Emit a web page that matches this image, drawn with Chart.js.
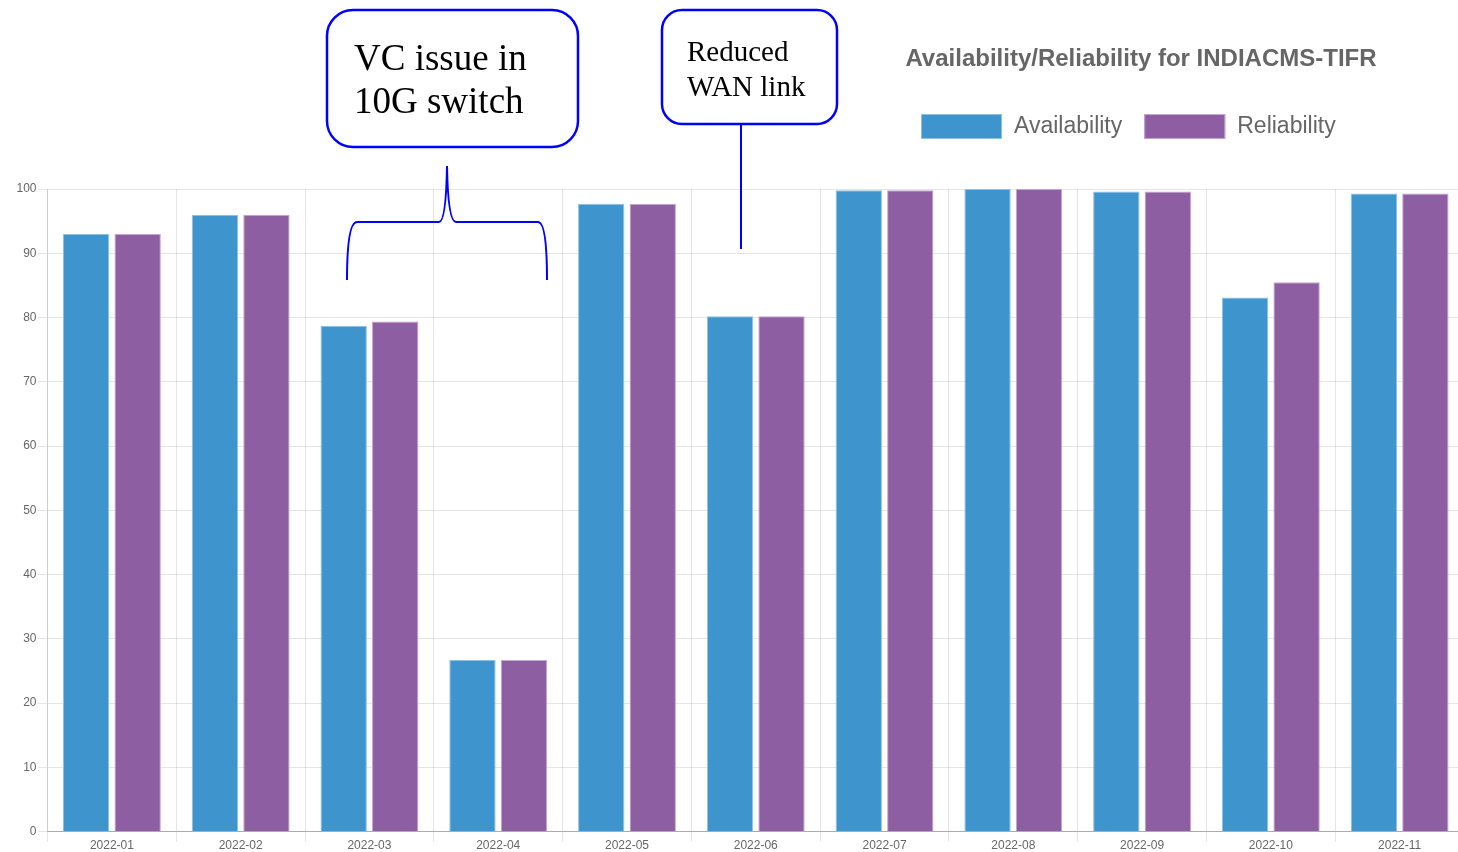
<!DOCTYPE html>
<html>
<head>
<meta charset="utf-8">
<title>Availability/Reliability for INDIACMS-TIFR</title>
<script src="https://cdn.jsdelivr.net/npm/chart.js@4.4.0/dist/chart.umd.min.js"></script>
<style>
    html, body { margin: 0; padding: 0; background: #fff; overflow: hidden; }
    #wrap { position: relative; width: 1464px; height: 852px; }
</style>
</head>
<body>
<div id="wrap"><canvas id="siteChart"></canvas></div>
<script>
const months = ['2022-01', '2022-02', '2022-03', '2022-04', '2022-05', '2022-06',
    '2022-07', '2022-08', '2022-09', '2022-10', '2022-11'];
const availability = [93.0, 96.0, 78.7, 26.7, 97.7, 80.2, 99.8, 100.0, 99.6, 83.1, 99.3];
const reliability = [93.0, 96.0, 79.4, 26.7, 97.7, 80.2, 99.8, 100.0, 99.6, 85.5, 99.3];
const yTicks = [0, 10, 20, 30, 40, 50, 60, 70, 80, 90, 100];
const chartTitle = 'Availability/Reliability for INDIACMS-TIFR';

const sansFont = "'Liberation Sans', Arial, sans-serif";
const serifFont = "'Liberation Serif', 'Times New Roman', serif";

Chart.defaults.font.family = sansFont;
Chart.defaults.color = '#666';

// title + legend sit off to the right, so they are drawn by hand
const headerPlugin = {
    id: 'header',
    afterDraw(chart) {
        const ctx = chart.ctx;
        ctx.save();
        ctx.fillStyle = '#666';
        ctx.font = 'bold 24px ' + sansFont;
        ctx.textAlign = 'center';
        ctx.textBaseline = 'alphabetic';
        ctx.fillText(chartTitle, 1141, 66);

        ctx.font = '23px ' + sansFont;
        ctx.textAlign = 'left';
        ctx.textBaseline = 'middle';
        let x = 921;
        chart.data.datasets.forEach(ds => {
            ctx.fillStyle = ds.backgroundColor;
            ctx.fillRect(x, 114, 81, 25);
            ctx.strokeStyle = ds.borderColor;
            ctx.lineWidth = 1;
            ctx.strokeRect(x + 0.5, 114.5, 80, 24);
            ctx.fillStyle = '#666';
            ctx.fillText(ds.label, x + 93, 127);
            x += 93 + ctx.measureText(ds.label).width + 22;
        });
        ctx.restore();
    }
};

function roundBox(ctx, x, y, w, h, r) {
    ctx.beginPath();
    ctx.roundRect(x, y, w, h, r);
    ctx.fillStyle = '#fff';
    ctx.fill();
    ctx.stroke();
}

// callouts pasted on top of the chart
const notesPlugin = {
    id: 'notes',
    afterDraw(chart) {
        const ctx = chart.ctx;
        ctx.save();
        ctx.strokeStyle = '#0000ff';
        ctx.lineWidth = 2.5;
        roundBox(ctx, 327, 10, 251, 137, 26);
        roundBox(ctx, 662, 10, 175, 114, 20);

        ctx.fillStyle = '#000';
        ctx.textAlign = 'left';
        ctx.textBaseline = 'alphabetic';
        ctx.font = '37px ' + serifFont;
        ctx.fillText('VC issue in', 354, 70);
        ctx.fillText('10G switch', 354, 113);
        ctx.font = '29px ' + serifFont;
        ctx.fillText('Reduced', 687, 61);
        ctx.fillText('WAN link', 687, 96);

        ctx.lineWidth = 2;
        ctx.beginPath();
        ctx.moveTo(741, 124);
        ctx.lineTo(741, 249);
        ctx.stroke();

        // curly brace over 2022-03 / 2022-04
        ctx.beginPath();
        ctx.moveTo(347, 280);
        ctx.quadraticCurveTo(347, 222, 357, 222);
        ctx.lineTo(439, 222);
        ctx.quadraticCurveTo(446, 222, 447, 166);
        ctx.quadraticCurveTo(448, 222, 456, 222);
        ctx.lineTo(538, 222);
        ctx.quadraticCurveTo(547, 222, 547, 280);
        ctx.stroke();
        ctx.restore();
    }
};

const ctx = document.getElementById('siteChart').getContext('2d');
new Chart(ctx, {
    type: 'bar',
    data: {
        labels: months,
        datasets: [{
            label: 'Availability',
            data: availability,
            backgroundColor: '#3e95cd',
            borderColor: '#8dc2e6',
            borderWidth: 1
        }, {
            label: 'Reliability',
            data: reliability,
            backgroundColor: '#8e5ea2',
            borderColor: '#c3a6d1',
            borderWidth: 1
        }]
    },
    options: {
        responsive: true,
        maintainAspectRatio: false,
        animation: false,
        layout: {
            padding: { top: 189, left: 15.5, right: 0, bottom: 2 }
        },
        plugins: {
            legend: { display: false },
            title: { display: false },
            tooltip: { enabled: false }
        },
        scales: {
            x: {
                grid: {
                    color: 'rgba(0, 0, 0, 0.1)',
                    tickLength: 10
                },
                border: { color: 'rgba(0, 0, 0, 0.25)' },
                ticks: {
                    color: '#666',
                    padding: -3,
                    font: { size: 12 }
                }
            },
            y: {
                min: 0,
                max: 100,
                afterBuildTicks: axis => {
                    axis.ticks = yTicks.map(v => ({ value: v }));
                },
                grid: {
                    color: 'rgba(0, 0, 0, 0.1)',
                    tickLength: 10
                },
                border: { color: 'rgba(0, 0, 0, 0.1)' },
                ticks: {
                    color: '#666',
                    padding: 1,
                    font: { size: 12 }
                }
            }
        }
    },
    plugins: [headerPlugin, notesPlugin]
});
</script>
</body>
</html>
